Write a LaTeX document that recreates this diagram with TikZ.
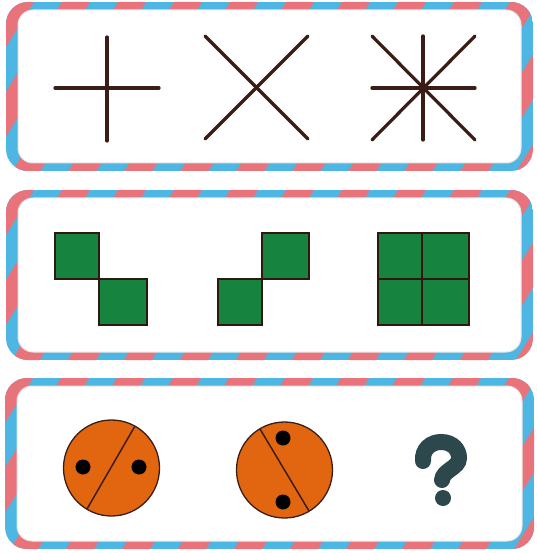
\documentclass[tikz,border=0pt]{standalone}
\usepackage{tikz}
\definecolor{mailred}{HTML}{E8737A}
\definecolor{mailblue}{HTML}{4DB6E2}
\definecolor{ink}{HTML}{3B1D17}
\definecolor{tilegreen}{HTML}{16843F}
\definecolor{ballorange}{HTML}{E2660F}
\definecolor{qmark}{HTML}{2D484C}
\tikzset{
  stroke/.style={draw=ink, line width=3.2pt, line cap=round},
  tile/.style={fill=tilegreen, draw=ink!80!black, line width=1.4pt},
  ball/.style={fill=ballorange, draw=ink, line width=1.3pt},
  split/.style={draw=ink, line width=1.5pt},
  dot/.style={fill=black},
  inner/.style={fill=white, draw=black!10, line width=1pt, rounded corners=15pt},
}
\newcommand{\mailpanel}[4]{% x0 y0 x1 y1 (outer)
  \begin{scope}
    \clip[rounded corners=22pt] (#1,#2) rectangle (#3,#4);
    \fill[mailblue] (#1,#2) rectangle (#3,#4);
    \foreach \i in {-4,...,12} {
      \fill[mailred] ({#1+\i*56},#2) -- ++(28,0) -- ++({-(#4-#2)/1.6},{#4-#2}) -- ++(-28,0) -- cycle;
    }
  \end{scope}
  \path[inner] ({#1+12},{#2+8}) rectangle ({#3-12},{#4-8});
}
\begin{document}
\begin{tikzpicture}[x=1pt,y=-1pt]
\useasboundingbox (0,0) rectangle (536,553);
\mailpanel{6}{2}{533}{171}
\mailpanel{6}{190}{533}{360}
\mailpanel{5}{378}{534}{549}

% panel 1
\draw[stroke] (55,88) -- (159,88);
\draw[stroke] (107,37) -- (107,141);
\draw[stroke] (205,36) -- (308,139);
\draw[stroke] (308,36) -- (205,139);
\draw[stroke] (372,36) -- (475,140);
\draw[stroke] (475,36) -- (372,140);
\draw[stroke] (372,88) -- (475,88);
\draw[stroke] (423,36) -- (423,140);

% panel 2
\path[tile] (55,233) rectangle (99,279);
\path[tile] (99,279) rectangle (147,325);
\path[tile] (218,279) rectangle (262,325);
\path[tile] (262,233) rectangle (309,279);
\path[tile] (378,233) rectangle (469,325);
\draw[ink!80!black, line width=1.4pt] (422,233) -- (422,325) (378,279) -- (469,279);

% panel 3
\node[ball, circle, minimum size=96pt, inner sep=0pt] (b1) at (111.5,468) {};
\draw[split] (135,426) -- (87,509);
\fill[dot] (83,467) circle (7.5);
\fill[dot] (139,467) circle (7.5);
\node[ball, circle, minimum size=96pt, inner sep=0pt] (b2) at (284.5,470) {};
\draw[split] (260,429) -- (309,511);
\fill[dot] (283,438) circle (7.5);
\fill[dot] (283,502) circle (7.5);

\draw[qmark, line width=16pt, line cap=round]
  (423,461) .. controls (422,449) and (431,442) .. (441,442)
  .. controls (453,442) and (459,450) .. (459,458)
  .. controls (459,468) and (443,470) .. (442,480);
\fill[qmark] (443,498) circle (8);
\end{tikzpicture}
\end{document}
